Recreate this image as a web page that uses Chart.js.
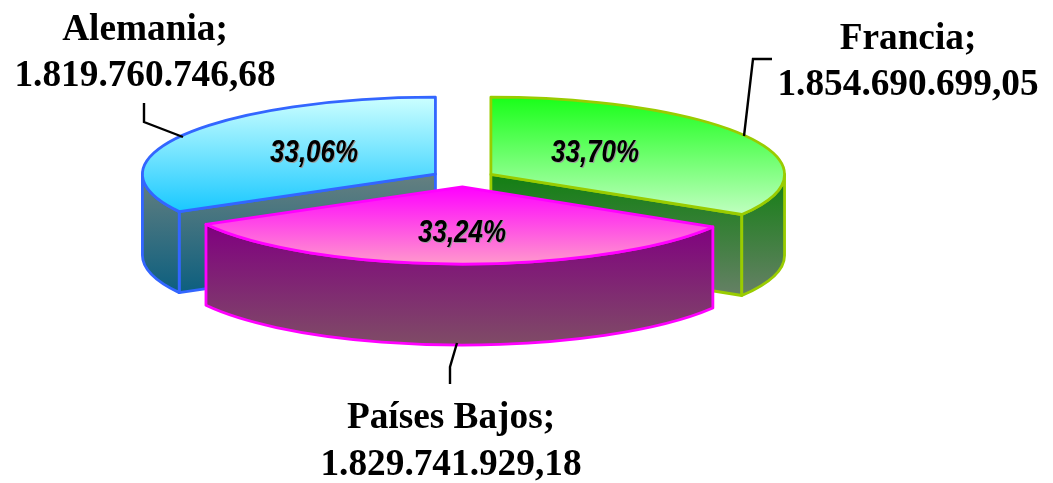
<!DOCTYPE html>
<html lang="es">
<head>
<meta charset="utf-8">
<title>Pie 3D</title>
<style>html,body{margin:0;padding:0;background:#fff}canvas{display:block}</style>
<script src="https://cdn.jsdelivr.net/npm/chart.js@4"></script>
</head>
<body>
<canvas id="c" width="1053" height="483"></canvas>
<script>
// Data (clockwise from 12 o'clock)
const categories = ['Francia', 'Países Bajos', 'Alemania'];
const values = [1854690699.05, 1829741929.18, 1819760746.68];
const valueLabels = ['1.854.690.699,05', '1.829.741.929,18', '1.819.760.746,68'];
const percentLabels = ['33,70%', '33,24%', '33,06%'];

// Styles
const borderColors = ['#99cc00', '#ff00ff', '#3366ff'];
const solidColors = ['#7fff7f', '#ff66e6', '#66e0ff'];
const topStops = [['#19ff19', '#c0ffc0'], ['#ff00ff', '#ff99cc'], ['#ccffff', '#19c8ff']];
const wallStops = [['#127f12', '#668066'], ['#800080', '#7f4c66'], ['#668080', '#0c5f7f']];
const SQUASH = 0.263, DEPTH = 81, EXPLODE = 32, RADIUS = 289, EDGE = 2.8;
const nameFont = 'bold 37.3px "Liberation Serif"';
const pctFont = 'italic bold 32px "Liberation Sans"';
const nameSpots = [[908, 49, 95], [451, 428, 475], [145, 40, 86]];
const pctSpots = [[595, 162], [462, 242], [314, 162]];
const leaders = [
  [[772, 59], [753, 59], [744, 136]],
  [[457, 343], [450, 367], [450, 384]],
  [[144, 103], [144, 122], [183, 137]]
];
const drawOrder = [2, 0, 1];

function geom(a) {
  const mid = (a.startAngle + a.endAngle) / 2;
  const off = a.options.offset / 4;
  const s = a.startAngle, e = a.endAngle;
  // same radius the arc element itself fills with
  const R = a.outerRadius + off * (1 - Math.sin(Math.min(Math.PI, e - s)));
  const inside = t => { for (let k = -1; k <= 1; k++) { const v = t + k * 2 * Math.PI; if (v > s && v < e) return true; } return false; };
  const minS = Math.min(0, Math.sin(s), Math.sin(e), inside(-Math.PI / 2) ? -1 : 0);
  const maxS = Math.max(0, Math.sin(s), Math.sin(e), inside(Math.PI / 2) ? 1 : 0);
  return { s, e, R, minS, maxS, off, cx: a.x + off * Math.cos(mid), cy: a.y + off * Math.sin(mid) * SQUASH, ry: R * SQUASH };
}

function walls(ctx, g, i) {
  const startVis = Math.cos(g.s) < -0.01, endVis = Math.cos(g.e) > 0.01;
  const y0 = (startVis || endVis) ? g.cy : g.cy + g.ry * Math.min(Math.sin(g.s), Math.sin(g.e));
  const grad = ctx.createLinearGradient(0, y0, 0, g.cy + g.ry * g.maxS + DEPTH);
  grad.addColorStop(0, wallStops[i][0]);
  grad.addColorStop(1, wallStops[i][1]);
  ctx.fillStyle = grad;
  ctx.strokeStyle = borderColors[i];
  ctx.lineWidth = EDGE;
  ctx.lineJoin = 'round';
  const paint = () => { ctx.closePath(); ctx.fill(); ctx.stroke(); };
  const radial = t => {
    const px = g.cx + g.R * Math.cos(t), py = g.cy + g.ry * Math.sin(t);
    ctx.beginPath();
    ctx.moveTo(g.cx, g.cy);
    ctx.lineTo(px, py);
    ctx.lineTo(px, py + DEPTH);
    ctx.lineTo(g.cx, g.cy + DEPTH);
    paint();
  };
  if (startVis) radial(g.s);
  if (endVis) radial(g.e);
  // outer rim: the part of the arc that faces the viewer
  let a0 = g.s, a1 = g.e;
  if (a1 > Math.PI) a1 = Math.PI;
  if (a0 < 0) a0 = 0;
  if (a1 > a0) {
    ctx.beginPath();
    ctx.ellipse(g.cx, g.cy, g.R, g.ry, 0, a0, a1);
    ctx.ellipse(g.cx, g.cy + DEPTH, g.R, g.ry, 0, a1, a0, true);
    paint();
  }
}

const pie3d = {
  id: 'pie3d',
  beforeDatasetsDraw(chart) {
    const ctx = chart.ctx, arcs = chart.getDatasetMeta(0).data;
    ctx.save();
    drawOrder.forEach(i => walls(ctx, geom(arcs[i]), i));
    ctx.restore();
    arcs.forEach((a, i) => {
      const g = geom(a);
      const grad = ctx.createLinearGradient(0, a.y + g.R * g.minS, 0, a.y + g.R * g.maxS);
      grad.addColorStop(0, topStops[i][0]);
      grad.addColorStop(1, topStops[i][1]);
      a.options.backgroundColor = grad;
    });
    const o = arcs[0];
    ctx.save();
    ctx.translate(o.x, o.y);
    ctx.scale(1, SQUASH);
    ctx.translate(-o.x, -o.y);
  },
  afterDatasetsDraw(chart) {
    const ctx = chart.ctx, arcs = chart.getDatasetMeta(0).data;
    ctx.restore();
    ctx.save();
    ctx.lineJoin = 'round';
    arcs.forEach((a, i) => {
      const g = geom(a);
      ctx.beginPath();
      ctx.moveTo(g.cx, g.cy);
      ctx.ellipse(g.cx, g.cy, g.R, g.ry, 0, g.s, g.e);
      ctx.closePath();
      ctx.strokeStyle = borderColors[i];
      ctx.lineWidth = EDGE;
      ctx.stroke();
    });
    // leader lines
    ctx.strokeStyle = '#000';
    ctx.lineWidth = 2.4;
    ctx.lineJoin = 'miter';
    leaders.forEach(l => {
      ctx.beginPath();
      l.forEach((p, k) => k ? ctx.lineTo(p[0], p[1]) : ctx.moveTo(p[0], p[1]));
      ctx.stroke();
    });
    // category + value labels
    ctx.fillStyle = '#000';
    ctx.textAlign = 'center';
    ctx.textBaseline = 'alphabetic';
    ctx.font = nameFont;
    categories.forEach((n, i) => {
      ctx.fillText(n + ';', nameSpots[i][0], nameSpots[i][1]);
      ctx.fillText(valueLabels[i], nameSpots[i][0], nameSpots[i][2]);
    });
    // percentage labels
    ctx.font = pctFont;
    percentLabels.forEach((p, i) => {
      ctx.save();
      ctx.translate(pctSpots[i][0], pctSpots[i][1]);
      ctx.scale(0.81, 1);
      ctx.shadowColor = '#999';
      ctx.shadowOffsetX = 1;
      ctx.shadowOffsetY = 1;
      ctx.shadowBlur = 0;
      ctx.fillText(p, 0, 0);
      ctx.restore();
    });
    ctx.restore();
  }
};

new Chart(document.getElementById('c'), {
  type: 'pie',
  data: {
    labels: categories,
    datasets: [{
      data: values,
      backgroundColor: solidColors,
      borderWidth: 0,
      offset: EXPLODE * 4,
      hoverOffset: 0,
      clip: false
    }]
  },
  options: {
    responsive: false,
    animation: false,
    events: [],
    radius: RADIUS,
    layout: { padding: { right: 127, bottom: 126 } },
    plugins: { legend: { display: false }, tooltip: { enabled: false } }
  },
  plugins: [pie3d]
});
</script>
</body>
</html>
